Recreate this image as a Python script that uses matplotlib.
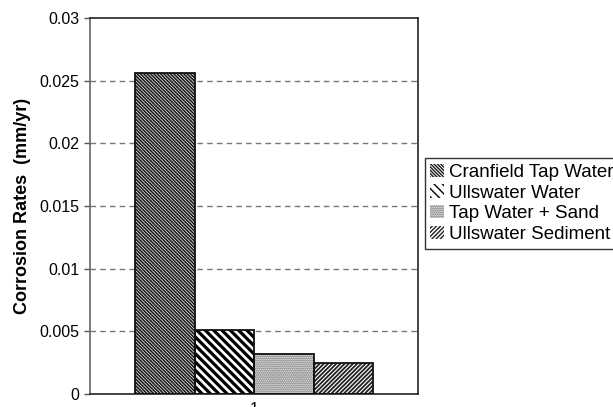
import matplotlib
matplotlib.use("Agg")
import matplotlib.pyplot as plt
import numpy as np

plt.rcParams['font.family'] = ['Liberation Sans', 'DejaVu Sans']

# data
series = ['Cranfield Tap Water', 'Ullswater Water', 'Tap Water + Sand', 'Ullswater Sediment']
rates = [0.0256, 0.0051, 0.0032, 0.0025]
category = ['1']
yticks = [0, 0.005, 0.01, 0.015, 0.02, 0.025, 0.03]

hatches = ['\\' * 10, '\\' * 4, '.' * 8, '/' * 8]
hatch_cols = ['#1a1a1a', '#000000', '#555555', '#222222']
hatch_lw = [1.2, 2.3, 1.0, 1.3]

fig = plt.figure(figsize=(6.13, 4.07), dpi=100)
ax = fig.add_axes([0.1468, 0.0319, 0.5352, 0.9239])

xs = np.arange(len(series)) - (len(series) - 1) / 2
for x, v, lab, h, c, lw in zip(xs, rates, series, hatches, hatch_cols, hatch_lw):
    with plt.rc_context({'hatch.linewidth': lw}):
        ax.bar(x, v, width=1.0, color='white', edgecolor=c, hatch=h, linewidth=0, label=lab, zorder=2)
    ax.bar(x, v, width=1.0, fill=False, edgecolor='#111111', linewidth=1.3, zorder=3)

ax.set_xlim(-2.757, 2.757)
ax.set_ylim(0, 0.03)
ax.set_yticks(yticks)
ax.set_yticklabels(['0', '0.005', '0.01', '0.015', '0.02', '0.025', '0.03'], fontsize=11.5)
ax.set_xticks([0])
ax.set_xticklabels(category, fontsize=11.5)
ax.tick_params(axis='x', length=0, pad=6)
ax.tick_params(axis='y', length=4, width=1, color='#555555')

for y in yticks[1:-1]:
    ax.axhline(y, color='#777777', linestyle=(0, (4, 3)), linewidth=1, zorder=1)

for s in ax.spines.values():
    s.set_linewidth(1.2)
    s.set_color('#222222')
ax.spines['left'].set_color('#666666')

ax.set_ylabel('Corrosion Rates  (mm/yr)', fontsize=13, fontweight='bold', labelpad=6)

leg = ax.legend(loc='upper left', bbox_to_anchor=(0.693, 0.612), bbox_transform=fig.transFigure,
                fontsize=13.5, frameon=True, fancybox=False, handlelength=0.7, handleheight=0.7,
                handletextpad=0.3, borderpad=0.3, labelspacing=0.2, borderaxespad=0)
leg.get_frame().set_edgecolor('black')
leg.get_frame().set_linewidth(1.0)

fig.savefig('out.png', dpi=100)
